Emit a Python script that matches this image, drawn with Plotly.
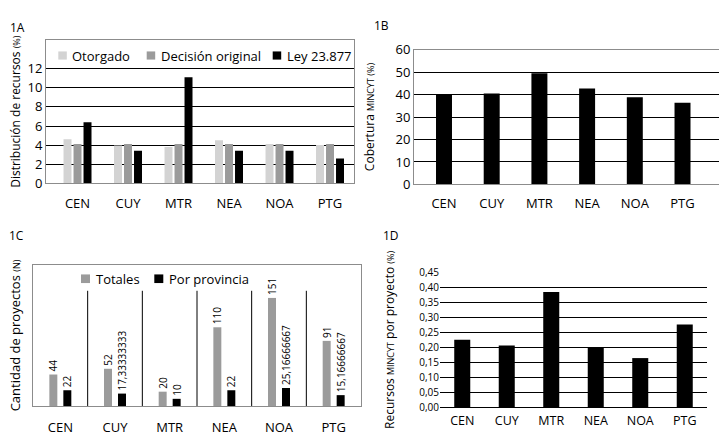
import plotly.graph_objects as go

# ---------------- data ----------------
regions = ["CEN", "CUY", "MTR", "NEA", "NOA", "PTG"]

# 1A  Distribución de recursos (%)
otorgado = [4.6, 3.95, 3.8, 4.5, 4.1, 4.0]
decision_original = [4.1, 4.1, 4.1, 4.1, 4.1, 4.1]
ley_23877 = [6.4, 3.4, 11.1, 3.4, 3.4, 2.6]
ticks_1a = [0, 2, 4, 6, 8, 10, 12]

# 1B  Cobertura MINCYT (%)
cobertura = [40.0, 40.5, 49.5, 42.7, 38.8, 36.3]
ticks_1b = [0, 10, 20, 30, 40, 50, 60]

# 1C  Cantidad de proyectos (N)
totales = [44, 52, 20, 110, 151, 91]
por_provincia = [22, 17.33333333, 10, 22, 25.16666667, 15.16666667]

# 1D  Recursos MINCYT por proyecto (%)
recursos_proyecto = [0.226, 0.207, 0.384, 0.200, 0.165, 0.276]
ticks_1d = [0.0, 0.05, 0.10, 0.15, 0.20, 0.25, 0.30, 0.35, 0.40, 0.45]

FONT = "Open Sans"
W, H = 719, 438
C_LIGHT, C_MID, C_DARK = "#d3d3d3", "#9b9b9b", "#000000"


def fmt(v):
    s = ("%.8f" % v).rstrip("0").rstrip(".")
    return s.replace(".", ",")


def dom_x(a, b):
    return [a / W, b / W]


def dom_y(top, bottom):
    return [1 - bottom / H, 1 - top / H]


fig = go.Figure()

# ---- 1A ----
wa, pa = 0.158, 0.198
series_1a = [("Otorgado", otorgado, C_LIGHT, -pa),
             ("Decisión original", decision_original, C_MID, 0),
             ("Ley 23.877", ley_23877, C_DARK, pa)]
for name, vals, col, c in series_1a:
    fig.add_trace(go.Bar(x=regions, y=vals, name=name, marker_color=col,
                         marker_line_width=0, width=wa, offset=c - wa / 2,
                         xaxis="x", yaxis="y", showlegend=False))

# ---- 1B ----
fig.add_trace(go.Bar(x=regions, y=cobertura, marker_color=C_DARK,
                     marker_line_width=0, width=0.335, offset=-0.1675,
                     xaxis="x2", yaxis="y2", showlegend=False))

# ---- 1C ----
wc, pc = 0.146, 0.128
series_1c = [("Totales", totales, C_MID, -pc),
             ("Por provincia", por_provincia, C_DARK, pc)]
for name, vals, col, c in series_1c:
    fig.add_trace(go.Bar(x=regions, y=vals, name=name, marker_color=col,
                         marker_line_width=0, width=wc, offset=c - wc / 2,
                         text=[fmt(v) for v in vals], textposition="outside",
                         textangle=-90, constraintext="none", cliponaxis=False,
                         textfont=dict(size=10, color="#000000", family=FONT),
                         xaxis="x3", yaxis="y3", showlegend=False))

# ---- 1D ----
fig.add_trace(go.Bar(x=regions, y=recursos_proyecto, marker_color=C_DARK,
                     marker_line_width=0, width=0.36, offset=-0.18,
                     xaxis="x4", yaxis="y4", showlegend=False))

# separators in 1C
for i in range(1, len(regions)):
    fig.add_shape(type="line", xref="x3", yref="y3", x0=i - 0.5, x1=i - 0.5,
                  y0=0, y1=161, line=dict(color="#000000", width=1))


# legends (keys + labels)
def legend_key(x0, yc, label, color, size=8.5, text_dx=3.5):
    fig.add_shape(type="rect", xref="paper", yref="paper",
                  x0=x0 / W, x1=(x0 + size) / W,
                  y0=1 - (yc + size / 2) / H, y1=1 - (yc - size / 2) / H,
                  fillcolor=color, line=dict(width=0))
    fig.add_annotation(text=label, x=(x0 + size + text_dx) / W, y=1 - yc / H,
                       xref="paper", yref="paper", showarrow=False,
                       xanchor="left", yanchor="middle",
                       font=dict(size=13, color="#000000", family=FONT))


for (name, _, col, _), x0 in zip(series_1a, [58.3, 146.7, 272.7]):
    legend_key(x0, 48.5, name, col)
for (name, _, col, _), x0 in zip(series_1c, [81, 154.3]):
    legend_key(x0, 281.3, name, col, size=9)

FRAME = "#8c8c8c"
small = "<span style='font-size:9px'>%s</span>"

fig.update_layout(
    width=W, height=H, margin=dict(l=0, r=0, t=0, b=0),
    paper_bgcolor="white", plot_bgcolor="white",
    barmode="overlay", separators=",.",
    font=dict(family=FONT, color="#000000", size=12),
    xaxis=dict(domain=dom_x(46, 354), range=[-0.624, 5.475], anchor="y",
               showline=True, linecolor=FRAME, mirror=True, showgrid=False,
               ticks="", tickfont=dict(size=13), ticklabelstandoff=8),
    yaxis=dict(domain=dom_y(32.5, 181.7), range=[0, 15], anchor="x",
               tickvals=ticks_1a, showline=True, linecolor=FRAME, mirror=True,
               showgrid=True, gridcolor="#000000", gridwidth=1, zeroline=False,
               ticks="", tickfont=dict(size=13),
               title=dict(text="Distribución de recursos " + small % "(%)",
                          font=dict(size=12), standoff=4)),
    xaxis2=dict(domain=dom_x(414, 719), range=[-0.629, 5.765], anchor="y2",
                showline=True, linecolor=FRAME, mirror=True, showgrid=False,
                ticks="", tickfont=dict(size=13), ticklabelstandoff=7),
    yaxis2=dict(domain=dom_y(42.3, 183), range=[0, 60], anchor="x2",
                tickvals=ticks_1b, showline=True, linecolor=FRAME, mirror=False,
                showgrid=True, gridcolor="#000000", gridwidth=1, zeroline=False,
                ticks="", tickfont=dict(size=13),
                title=dict(text="Cobertura " + small % "MINCYT (%)",
                           font=dict(size=12), standoff=18)),
    xaxis3=dict(domain=dom_x(33, 361), range=[-0.5, 5.5], anchor="y3",
                showline=True, linecolor=FRAME, mirror=True, showgrid=False,
                ticks="", tickfont=dict(size=13), ticklabelstandoff=9),
    yaxis3=dict(domain=dom_y(267, 414), range=[0, 197], anchor="x3",
                showline=True, linecolor=FRAME, mirror=True, showgrid=False,
                zeroline=False, showticklabels=False, ticks="",
                title=dict(text="Cantidad de proyectos " + small % "(N)",
                           font=dict(size=13), standoff=8)),
    xaxis4=dict(domain=dom_x(440, 707), range=[-0.5, 5.5], anchor="y4",
                showline=False, showgrid=False, ticks="",
                tickfont=dict(size=12.5), ticklabelstandoff=4),
    yaxis4=dict(domain=dom_y(274.3, 416), range=[0, 0.45], anchor="x4",
                tickvals=ticks_1d, tickformat=".2f", showline=False,
                showgrid=True, gridcolor="#000000", gridwidth=1,
                zeroline=True, zerolinecolor="#000000", zerolinewidth=1,
                ticks="", tickfont=dict(size=10),
                title=dict(text="Recursos " + small % "MINCYT" + " por proyecto " + small % "(%)",
                           font=dict(size=12), standoff=22)),
)

for txt, px, py in [("1A", 17, 19), ("1B", 381, 17), ("1C", 16.5, 236), ("1D", 391, 236)]:
    fig.add_annotation(text=txt, x=px / W, y=1 - py / H, xref="paper", yref="paper",
                       showarrow=False, xanchor="center", yanchor="middle",
                       font=dict(size=12, color="#000000", family=FONT))

fig.write_html("out.html", config={"displayModeBar": False},
               post_script="document.body.style.margin='0';document.body.style.overflow='hidden';")
